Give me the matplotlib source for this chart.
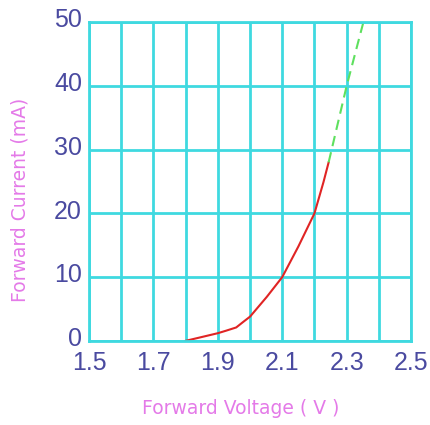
import matplotlib
matplotlib.use("Agg")
import matplotlib.pyplot as plt
from matplotlib.transforms import ScaledTranslation

# measured part of the curve (solid red)
volts_meas = [1.80, 1.85, 1.90, 1.926, 1.957, 1.977, 2.00, 2.052, 2.10, 2.15, 2.20, 2.228, 2.244]
amps_meas = [0.0, 0.6, 1.2, 1.6, 2.1, 2.9, 3.8, 6.9, 10.0, 14.8, 20.0, 24.9, 28.0]

# extrapolated part (dashed green)
volts_ext = [2.244, 2.30, 2.352]
amps_ext = [28.0, 40.0, 50.0]

xticks = [1.5, 1.7, 1.9, 2.1, 2.3, 2.5]
yticks = [0, 10, 20, 30, 40, 50]

plt.rcParams['font.family'] = ['Liberation Sans', 'DejaVu Sans']

fig = plt.figure(figsize=(4.3, 4.25), dpi=100)
ax = fig.add_axes([0.207, 0.198, 0.749, 0.750])

grid_col = '#3fd9e0'
tick_col = '#4a4aa0'
label_col = '#e47ae8'

ax.set_xlim(1.5, 2.5)
ax.set_ylim(0, 50)
ax.set_xticks([1.5 + 0.1 * i for i in range(11)])
ax.set_yticks(yticks)
ax.grid(True, color=grid_col, linewidth=2)
ax.set_axisbelow(True)
for s in ax.spines.values():
    s.set_color(grid_col)
    s.set_linewidth(2)

# only label every other vertical line
ax.set_xticklabels(['%.1f' % v if round(v, 1) in xticks else '' for v in ax.get_xticks()])
ax.tick_params(length=0, labelsize=18, labelcolor=tick_col)
ax.tick_params(axis='x', pad=7.5)
ax.tick_params(axis='y', pad=5)
# y labels sit a little higher than the gridlines
up = ScaledTranslation(0, 3.0 / 72, fig.dpi_scale_trans)
for lbl in ax.get_yticklabels():
    lbl.set_transform(lbl.get_transform() + up)

ax.plot(volts_meas, amps_meas, color='#e02424', linewidth=1.5, clip_on=False)
ax.plot(volts_ext, amps_ext, color='#5ee05e', linewidth=1.5, dashes=(5, 3), clip_on=False)

fig.text(0.56, 0.04, 'Forward Voltage ( V )', color=label_col, fontsize=13.5,
         family='DejaVu Sans', ha='center', va='center')
fig.text(0.047, 0.53, 'Forward Current (mA)', color=label_col, fontsize=13.5,
         family='DejaVu Sans', ha='center', va='center', rotation=90)

fig.savefig('out.png', dpi=100)
